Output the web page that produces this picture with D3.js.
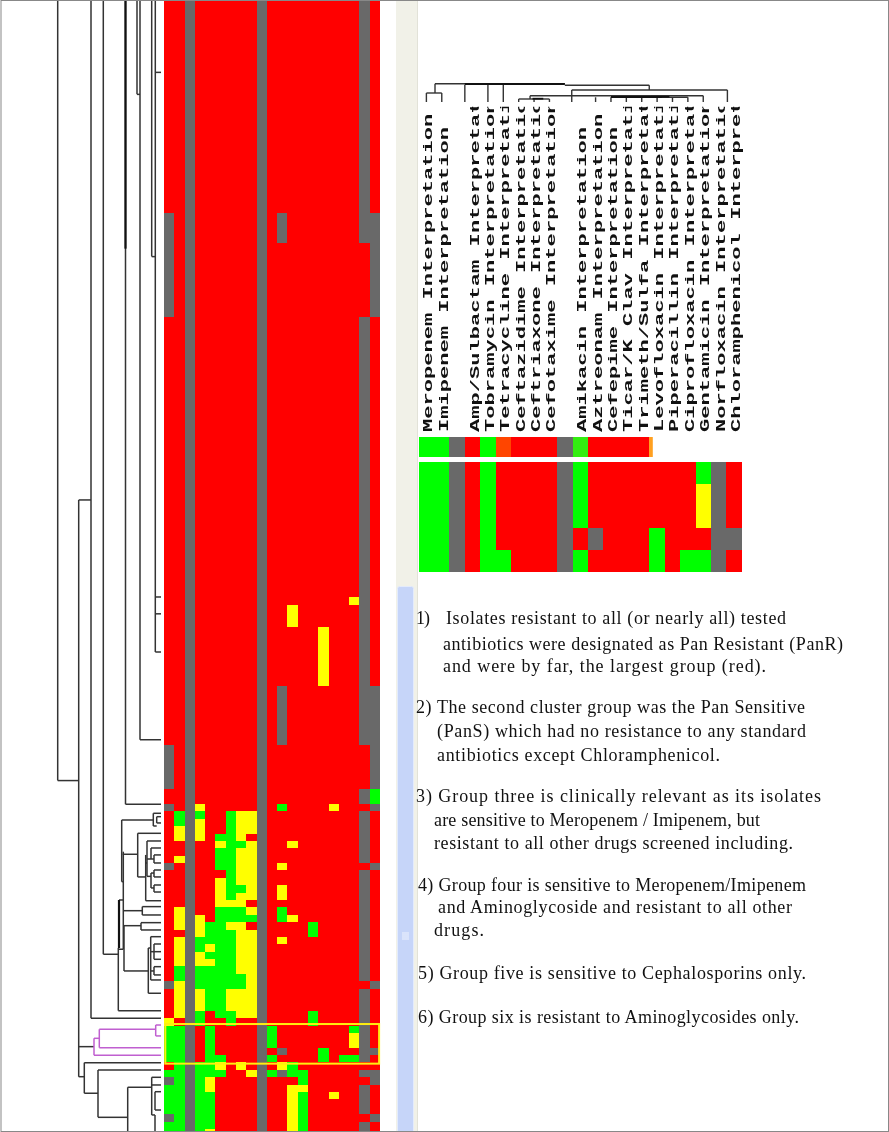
<!DOCTYPE html>
<html>
<head>
<meta charset="utf-8">
<title>Antibiotic resistance heatmap</title>
<script src="https://cdn.jsdelivr.net/npm/d3@7"></script>
<style>
    html, body { margin: 0; padding: 0; background: #fff; overflow: hidden; }
    svg { display: block; filter: blur(0.35px); }
</style>
</head>
<body>
<div id="chart"></div>
<script>
// R resistant, X not tested, G sensitive, Y intermediate
const rowRuns = [
    [29, "RR X RRRRRR X RRRRRRRRR XR"],
    [4,  "XR X RRRRRR X RXRRRRRRR XX"],
    [10, "XR X RRRRRR X RRRRRRRRR RX"],
    [38, "RR X RRRRRR X RRRRRRRRR XR"],
    [1,  "RR X RRRRRR X RRRRRRRRY XR"],
    [3,  "RR X RRRRRR X RRYRRRRRR XR"],
    [8,  "RR X RRRRRR X RRRRRYRRR XR"],
    [8,  "RR X RRRRRR X RXRRRRRRR XX"],
    [6,  "XR X RRRRRR X RRRRRRRRR RX"],
    [2,  "RR X RRRRRR X RRRRRRRRR XG"],
    [1,  "XR X YRRRRR X RGRRRRYRR RX"],
    [1,  "RG X GRRGYY X RRRRRRRRR XR"],
    [1,  "RG X YRRGYY X RRRRRRRRR XR"],
    [1,  "RY X YRRGYY X RRRRRRRRR XR"],
    [1,  "RY X YRGGYR X RRRRRRRRR XR"],
    [1,  "RR X RRYGGY X RRYRRRRRR XR"],
    [1,  "RR X RRGGYY X RRRRRRRRR XR"],
    [1,  "RY X RRGGYY X RRRRRRRRR XR"],
    [1,  "XR X RRGGYY X RYRRRRRRR RX"],
    [1,  "RR X RRRGYY X RRRRRRRRR XR"],
    [1,  "RR X RRYGYY X RRRRRRRRR XR"],
    [1,  "RR X RRYGGY X RYRRRRRRR XR"],
    [1,  "RR X RRYGYY X RYRRRRRRR XR"],
    [1,  "RR X RRYYYR X RRRRRRRRR XR"],
    [1,  "RY X RRGGGY X RGRRRRRRR XR"],
    [1,  "RY X YRGGGG X RGYRRRRRR XR"],
    [1,  "RY X YGGYYR X RRRRGRRRR XR"],
    [1,  "RR X YGGGYY X RRRRGRRRR XR"],
    [1,  "RY X GGGGYY X RYRRRRRRR XR"],
    [1,  "RY X GYGGYY X RRRRRRRRR XR"],
    [1,  "RY X YGGGYY X RRRRRRRRR XR"],
    [1,  "RY X YYGGYY X RRRRRRRRR XR"],
    [1,  "RG X GGGGYY X RRRRRRRRR XR"],
    [1,  "RG X GGGGGY X RRRRRRRRR XR"],
    [1,  "XY X GGGGGY X RRRRRRRRR RX"],
    [3,  "RY X YGGYYY X RRRRRRRRR XR"],
    [1,  "RY X GRGGYY X RRRRGRRRR XR"],
    [1,  "YR X GRRGRR X RRRRGRRRR XR"],
    [1,  "GG X RGRRRR X GRRRRRRRG XR"],
    [2,  "GG X RGRRRR X GRRRRRRRY XR"],
    [1,  "GG X RGRRRR X RXRRRGRRR XX"],
    [1,  "GG X RGGRRR X GRRRRGRGG XR"],
    [1,  "RG X GGYRYR X RYGRRRRRR RR"],
    [1,  "GG X GGGRRY X GXGGRRRRR XX"],
    [1,  "XG X GYRRRR X RRRGRRRRR RX"],
    [1,  "GG X GYRRRR X RRYYRRRRR XR"],
    [1,  "GG X GGRRRR X RRYGRRYRR XR"],
    [2,  "GG X GGRRRR X RRYGRRRRR XR"],
    [1,  "XG X GGRRRR X RRYGRRRRR RX"],
    [1,  "GG X GGRRRR X RRYGRRRRR XR"],
    [1,  "GG X GYRRRR X RRYGRRRRR XR"]
];

// the five isolates of the boxed cluster, shown enlarged on the right
const clusterRows = [139, 140, 141, 142, 143];
const summaryRow = "GG X RGORRR X gRRRRy";

const drugs = [
    "Meropenem Interpretation", "Imipenem Interpretation", "",
    "Amp/Sulbactam Interpretation", "Tobramycin Interpretation",
    "Tetracycline Interpretation", "Ceftazidime Interpretation",
    "Ceftriaxone Interpretation", "Cefotaxime Interpretation", "",
    "Amikacin Interpretation", "Aztreonam Interpretation",
    "Cefepime Interpretation", "Ticar/K Clav Interpretation",
    "Trimeth/Sulfa Interpretation", "Levofloxacin Interpretation",
    "Piperacillin Interpretation", "Ciprofloxacin Interpretation",
    "Gentamicin Interpretation", "Norfloxacin Interpretation",
    "Chloramphenicol Interpretation"
];

// row dendrogram: [distance, fromRow, toRow] and [row, fromDistance, toDistance]
const treeStems = [
    [103.3, 0, 105.83], [82.3, 67.83, 145.93], [70, 0, 138.02], [57.7, 0, 129.35],
    [35.5, 0, 109.04], [24, 0, 12.91], [21, 0, 100.3], [9.3, 0, 34.88], [5.7, 0, 88.42],
    [7.7, 110.26, 111.98], [4.3, 110.72, 111.57], [39.3, 111.17, 119.52], [37.7, 115.46, 128.67],
    [23.3, 112.97, 118.88], [15.3, 115.9, 122.1], [14, 114.01, 118.8], [10, 114.96, 116.45],
    [7, 115.9, 116.99], [10, 118.35, 120.37], [7, 117.94, 118.88], [7, 119.97, 120.92],
    [42.7, 128.5, 136.99], [18.7, 122.9, 124.03], [37, 125.48, 131.61], [20, 125.07, 126.06],
    [12.7, 128.5, 134.63], [10.3, 126.97, 132.83], [7, 127.96, 130.03], [7, 131.03, 132.15],
    [76.7, 144.03, 148.17], [63, 145.02, 151.43], [33.3, 147.36, 154], [9.3, 146.01, 151.11],
    [6, 147.96, 150.44], [6, 151.11, 154]
];
const treeBars = [
    [105.83, 103.3, 82.3], [67.83, 82.3, 70], [138.02, 70, 0], [109.04, 35.5, 0],
    [12.91, 24, 21], [100.3, 21, 0], [34.88, 9.3, 5.7], [9.93, 5.7, 0], [80.97, 5.7, 0],
    [83.25, 5.7, 0], [88.42, 5.7, 0], [129.35, 57.7, 42.7], [111.17, 39.3, 7.7],
    [110.26, 7.7, 0], [111.98, 7.7, 4.3], [110.72, 4.3, 0], [111.57, 4.3, 0],
    [115.81, 38.3, 23.3], [112.97, 23.3, 0], [118.88, 23.3, 15.3], [122.1, 15.3, 0],
    [114.01, 14, 0], [116.45, 14, 7], [118.8, 14, 10], [117, 15.3, 14], [114.96, 10, 0],
    [115.9, 7, 0], [116.99, 7, 0], [117.94, 7, 0], [118.88, 7, 0], [118.35, 10, 7],
    [119.97, 7, 0], [120.92, 7, 0], [120.37, 10, 7], [136.99, 42.7, 0], [122, 42, 37.7],
    [119.52, 39.3, 37.7], [123.45, 37.7, 18.7], [122.9, 18.7, 0], [124.03, 18.7, 0],
    [128.67, 42.7, 37.7], [125.48, 37, 20], [125.07, 20, 0], [126.06, 20, 0],
    [131.61, 37, 12.7], [134.63, 12.7, 0], [126.97, 10.3, 0], [132.83, 10.3, 0],
    [128.5, 12.7, 10.3], [127.96, 7, 0], [129, 10.3, 0], [130.03, 7, 0],
    [131.03, 7, 0], [132.15, 7, 0], [131.61, 10.3, 7],
    [141.86, 82.3, 67], [145.93, 82.3, 76.7], [144.03, 76.7, 0], [148.17, 76.7, 63],
    [145.02, 63, 0], [151.43, 63, 33.3], [147.36, 33.3, 9.3], [146.01, 9.3, 0],
    [147.05, 9.3, 0], [151.11, 9.3, 6], [147.96, 6, 0], [150.44, 6, 0]
];
const treeHeavy = [[35.5, 0, 33.8], [42, 122, 128.5]];
const clusterStems = [[67, 140.73, 143.03], [61.7, 139.51, 142], [5.3, 138.93, 140.41]];
const clusterBars = [
    [143.03, 67, 0], [140.73, 67, 61.7], [142, 61.7, 0], [139.51, 61.7, 5.3],
    [138.93, 5.3, 0], [140.41, 5.3, 0]
];

// column dendrogram: [column, fromHeight, toHeight] and [height, fromColumn, toColumn]
const colStems = [
    [0, 0, 9], [1, 0, 9], [0.56, 9, 18.3], [2.5, 0, 17.3], [4, 0, 17.3], [5, 0, 17.3],
    [14.49, 12, 16.7], [9.45, 6.3, 12], [19.57, 0, 12], [18, 0, 6.3], [6.74, 3, 6.3],
    [6, 0, 3], [7, 0, 3], [8, 0, 3], [9.45, 0, 6.3], [11, 0, 4.7], [12, 0, 4.7],
    [13, 0, 4.7], [14, 0, 4.7], [15, 0, 4.7], [16, 0, 4.7], [17, 0, 4.7]
];
const colBars = [
    [18.3, 0.56, 9], [16.7, 9, 14.49], [12, 9.45, 19.57], [9, 0, 1], [6.3, 6.74, 18],
    [3, 6, 8], [4.7, 12, 17]
];
const colHeavy = [[18, 2.5, 9], [5, 12, 15.3], [5.2, 14.6, 15.8], [3.3, 6.9, 7.6]];

const noteLines = [
    "1)", "Isolates resistant to all (or nearly all) tested",
    "antibiotics were designated as Pan Resistant (PanR)",
    "and were by far, the largest group (red).",
    "2) The second cluster group was the Pan Sensitive",
    "(PanS) which had no resistance to any standard",
    "antibiotics except Chloramphenicol.",
    "3) Group three is clinically relevant as its isolates",
    "are sensitive to Meropenem / Imipenem, but",
    "resistant to all other drugs screened including.",
    "4) Group four is sensitive to Meropenem/Imipenem",
    "and Aminoglycoside and resistant to all other",
    "drugs.",
    "5) Group five is sensitive to Cephalosporins only.",
    "6) Group six is resistant to Aminoglycosides only."
];
const noteX = [416, 446, 443, 443, 416, 437, 437, 416, 434, 434, 418, 438, 434, 418, 418];
const noteY = [624, 624, 650, 672, 713, 737, 761, 802, 826, 849, 891, 913, 936, 979, 1023];
const noteW = [14, 340, 400, 323, 389, 369, 283, 405, 326, 359, 388, 354, 50, 388, 381];

const width = 889, height = 1132;
const cellColors = {
    R: "#ff0000", X: "#696969", G: "#00ff00", Y: "#ffff00",
    O: "#ff4500", g: "#33ee11", y: "#ffa020"
};

let rows = [];
rowRuns.forEach(run => {
    for (let i = 0; i < run[0]; i++) {
        rows.push(run[1].replace(/ /g, "").split(""));
    }
});

let svg = d3.select("#chart").append("svg")
    .attr("width", width)
    .attr("height", height);

let defs = svg.append("defs");
defs.append("clipPath").attr("id", "label-clip").append("rect")
    .attr("x", 410).attr("y", 106.7).attr("width", 340).attr("height", 330);
defs.append("clipPath").attr("id", "strip-clip").append("rect")
    .attr("x", 410).attr("y", 430).attr("width", 242.8).attr("height", 30);

// main heatmap
let colIndex = d3.range(21);
let x = d3.scaleBand().domain(colIndex).range([164, 380]);
let y = d3.scaleBand().domain(d3.range(rows.length)).range([-0.965, 1136.3]);
let yPos = d3.scaleLinear().domain([0, rows.length]).range([-0.965, 1136.3]);
let dist = d3.scaleLinear().domain([0, 103.3]).range([161, 57.7]);

function drawCells(parent, data, xScale, yScale) {
    let rowGroups = parent.selectAll("g")
        .data(data)
        .join("g")
        .attr("transform", (d, i) => "translate(0," + yScale(i) + ")");

    rowGroups.selectAll("rect")
        .data(d => d)
        .join("rect")
        .attr("x", (d, i) => xScale(i))
        .attr("width", xScale.bandwidth())
        .attr("height", yScale.bandwidth())
        .attr("fill", d => cellColors[d])
        .attr("shape-rendering", "crispEdges");
}

drawCells(svg.append("g").attr("class", "heatmap"), rows, x, y);

// row dendrogram
function drawTree(stems, bars, color, w) {
    let g = svg.append("g").attr("stroke", color).attr("stroke-width", w).attr("fill", "none");
    g.selectAll(".stem").data(stems).join("line").attr("class", "stem")
        .attr("x1", d => dist(d[0])).attr("x2", d => dist(d[0]))
        .attr("y1", d => yPos(d[1])).attr("y2", d => yPos(d[2]));
    g.selectAll(".bar").data(bars).join("line").attr("class", "bar")
        .attr("y1", d => yPos(d[0])).attr("y2", d => yPos(d[0]))
        .attr("x1", d => dist(d[1])).attr("x2", d => dist(d[2]));
}

drawTree(treeStems, treeBars, "#333", 1.5);
drawTree(treeHeavy, [], "#111", 2.2);
drawTree(clusterStems, clusterBars, "#c05fd0", 1.5);

// yellow box around the cluster
svg.append("rect")
    .attr("x", x(0) + 1.3)
    .attr("y", yPos(clusterRows[0]) - 1.5)
    .attr("width", x.bandwidth() * 21 - 2.2)
    .attr("height", yPos(clusterRows[4] + 1) - yPos(clusterRows[0]) + 2.7)
    .attr("fill", "none")
    .attr("stroke", "#ffee10")
    .attr("stroke-width", 2);

// scroll bar of the screenshot
svg.append("rect").attr("x", 396).attr("y", 0).attr("width", 22).attr("height", height).attr("fill", "#f1f1e8");
svg.append("rect").attr("x", 417).attr("y", 0).attr("width", 1).attr("height", height).attr("fill", "#e2e2d8");
svg.append("rect").attr("x", 397.5).attr("y", 586.5).attr("width", 16).attr("height", 550)
    .attr("rx", 2).attr("fill", "#c6d5f9").attr("stroke", "#e4ebfb");
svg.selectAll(".grip").data([933, 935, 937, 939]).join("line").attr("class", "grip")
    .attr("x1", 402).attr("x2", 409).attr("y1", d => d).attr("y2", d => d)
    .attr("stroke", "#eef2fd");

// enlarged cluster
let x2 = d3.scaleBand().domain(colIndex).range([418.7, 741.7]);
let y2 = d3.scaleBand().domain(d3.range(clusterRows.length)).range([461.7, 571.7]);
let yStrip = d3.scaleBand().domain([0]).range([436.7, 456.7]);

drawCells(svg.append("g").attr("class", "cluster"), clusterRows.map(r => rows[r]), x2, y2);
drawCells(svg.append("g").attr("class", "strip").attr("clip-path", "url(#strip-clip)"),
    [summaryRow.replace(/ /g, "").split("")], x2, yStrip);

// column labels
svg.append("g").attr("clip-path", "url(#label-clip)")
    .selectAll("text")
    .data(drugs)
    .join("text")
    .attr("transform", (d, i) => "translate(" + (x2(i) + x2.bandwidth() / 2 + 6) + ",432) rotate(-90) scale(1.7,1)")
    .attr("font-family", "'Liberation Mono', monospace")
    .attr("font-weight", "bold")
    .attr("font-size", 13)
    .attr("fill", "#111")
    .text(d => d);

// column dendrogram
let colX = d3.scaleLinear().domain([0, 20]).range([x2(0) + x2.bandwidth() / 2, x2(20) + x2.bandwidth() / 2]);
let colH = d3.scaleLinear().domain([0, 20]).range([102, 82]);
let colTree = svg.append("g").attr("stroke", "#333").attr("stroke-width", 1.4);
colTree.selectAll(".stem").data(colStems).join("line").attr("class", "stem")
    .attr("x1", d => colX(d[0])).attr("x2", d => colX(d[0]))
    .attr("y1", d => colH(d[1])).attr("y2", d => colH(d[2]));
colTree.selectAll(".bar").data(colBars).join("line").attr("class", "bar")
    .attr("x1", d => colX(d[1])).attr("x2", d => colX(d[2]))
    .attr("y1", d => colH(d[0])).attr("y2", d => colH(d[0]));
svg.append("g").attr("stroke", "#111").attr("stroke-width", 1.8)
    .selectAll("line").data(colHeavy).join("line")
    .attr("x1", d => colX(d[1])).attr("x2", d => colX(d[2]))
    .attr("y1", d => colH(d[0])).attr("y2", d => colH(d[0]));

// notes
svg.append("g").selectAll("text")
    .data(noteLines)
    .join("text")
    .attr("x", (d, i) => noteX[i])
    .attr("y", (d, i) => noteY[i])
    .attr("textLength", (d, i) => noteW[i])
    .attr("lengthAdjust", "spacing")
    .attr("font-family", "'Liberation Serif', serif")
    .attr("font-size", 18)
    .attr("fill", "#111")
    .text(d => d);

// frame
svg.append("rect")
    .attr("x", 1).attr("y", 0.5).attr("width", width - 1.5).attr("height", height - 1)
    .attr("fill", "none").attr("stroke", "#888").attr("stroke-width", 1);
</script>
</body>
</html>
